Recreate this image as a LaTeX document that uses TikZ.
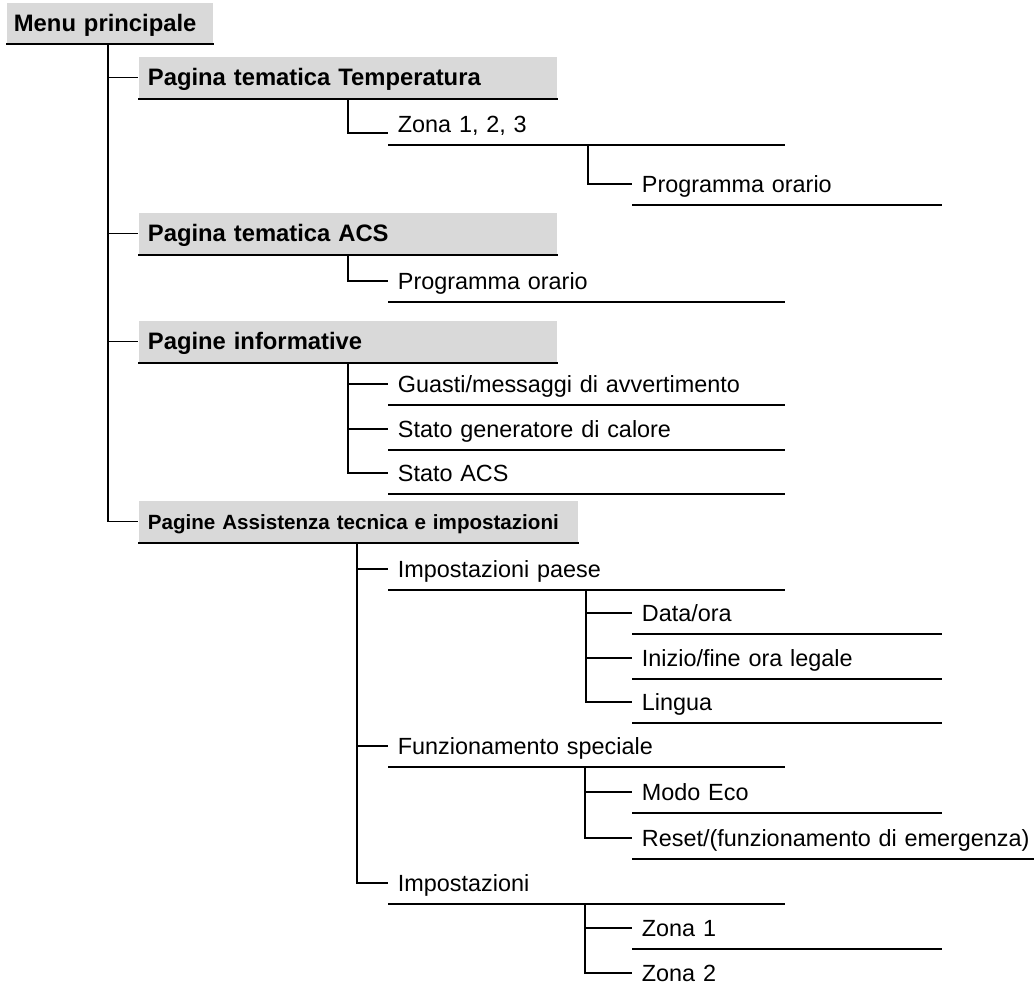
\documentclass[tikz,border=0pt]{standalone}
\usepackage{fontspec}
\setmainfont{Liberation Sans}
\definecolor{boxgray}{HTML}{D9D9D9}

\begin{document}
\begin{tikzpicture}[x=1pt, y=-1pt, line width=1.8pt,
    every node/.style={font=\fontsize{23.4}{28}\selectfont, inner ysep=0pt, text height=19pt, text depth=3pt},
    pagebox/.style={anchor=west, fill=boxgray, inner xsep=9pt, minimum height=41pt, text width=400pt, align=left, font=\fontsize{23.8}{28}\selectfont\bfseries},
    entry/.style={anchor=west, inner xsep=9pt, minimum height=40pt, text width=#1, align=left}]

    \useasboundingbox (0,0) rectangle (1035,988);

    % Menu principale
    \node[pagebox, text width=192pt, inner xsep=7pt, minimum height=40pt] (menu) at (6,23) {Menu principale};
    \draw (menu.south west) -- (menu.south east);
    \coordinate (trunk) at (108,43);

    % Pagina tematica Temperatura
    \node[pagebox] (temp) at (138,77.5) {Pagina tematica Temperatura};
    \draw (temp.south west) -- (temp.south east);
    \draw (trunk) |- (temp.west);
    \coordinate (tempfork) at (348,98);

    % Zona 1, 2, 3
    \node[entry=377pt] (zona) at (388,124) {Zona 1, 2, 3};
    \draw (zona.south west) -- (zona.south east);
    \draw (tempfork) |- ([yshift=-9pt]zona.west);
    \coordinate (zonafork) at (588,144);

    % Programma orario (zone)
    \node[entry=290pt] (zonaprog) at (632,184) {Programma orario};
    \draw (zonaprog.south west) -- (zonaprog.south east);
    \draw (zonafork) |- (zonaprog.west);

    % Pagina tematica ACS
    \node[pagebox] (acs) at (138,233.5) {Pagina tematica ACS};
    \draw (acs.south west) -- (acs.south east);
    \draw (trunk) |- (acs.west);
    \coordinate (acsfork) at (348,254);

    % Programma orario (ACS)
    \node[entry=377pt] (acsprog) at (388,281) {Programma orario};
    \draw (acsprog.south west) -- (acsprog.south east);
    \draw (acsfork) |- (acsprog.west);

    % Pagine informative
    \node[pagebox] (info) at (138,341.5) {Pagine informative};
    \draw (info.south west) -- (info.south east);
    \draw (trunk) |- (info.west);
    \coordinate (infofork) at (348,362);

    \node[entry=377pt] (guasti) at (388,384) {Guasti/messaggi di avvertimento};
    \draw (guasti.south west) -- (guasti.south east);
    \draw (infofork) |- (guasti.west);

    \node[entry=377pt] (statogen) at (388,429) {Stato generatore di calore};
    \draw (statogen.south west) -- (statogen.south east);
    \draw (infofork) |- (statogen.west);

    \node[entry=377pt] (statoacs) at (388,473) {Stato ACS};
    \draw (statoacs.south west) -- (statoacs.south east);
    \draw (infofork) |- (statoacs.west);

    % Pagine Assistenza tecnica e impostazioni
    \node[pagebox, text width=421pt, font=\fontsize{20.6}{24}\selectfont\bfseries] (assist) at (138,521.5) {Pagine Assistenza tecnica e impostazioni};
    \draw (assist.south west) -- (assist.south east);
    \draw (trunk) |- (assist.west);
    \coordinate (assistfork) at (357,542);

    % Impostazioni paese
    \node[entry=377pt] (paese) at (388,569) {Impostazioni paese};
    \draw (paese.south west) -- (paese.south east);
    \draw (assistfork) |- (paese.west);
    \coordinate (paesefork) at (586,589);

    \node[entry=290pt] (dataora) at (632,613) {Data/ora};
    \draw (dataora.south west) -- (dataora.south east);
    \draw (paesefork) |- (dataora.west);

    \node[entry=290pt] (legale) at (632,658) {Inizio/fine ora legale};
    \draw (legale.south west) -- (legale.south east);
    \draw (paesefork) |- (legale.west);

    \node[entry=290pt] (lingua) at (632,702) {Lingua};
    \draw (lingua.south west) -- (lingua.south east);
    \draw (paesefork) |- (lingua.west);

    % Funzionamento speciale
    \node[entry=377pt] (speciale) at (388,746) {Funzionamento speciale};
    \draw (speciale.south west) -- (speciale.south east);
    \draw (assistfork) |- (speciale.west);
    \coordinate (specialefork) at (585,766);

    \node[entry=290pt] (eco) at (632,792) {Modo Eco};
    \draw (eco.south west) -- (eco.south east);
    \draw (specialefork) |- (eco.west);

    \node[entry=382pt] (reset) at (632,838) {\mbox{Reset/(funzionamento di emergenza)}};
    \draw (reset.south west) -- (reset.south east);
    \draw (specialefork) |- (reset.west);

    % Impostazioni
    \node[entry=377pt] (impost) at (388,883) {Impostazioni};
    \draw (impost.south west) -- (impost.south east);
    \draw (assistfork) |- (impost.west);
    \coordinate (impostfork) at (585,903);

    \node[entry=290pt] (zona1) at (632,928) {Zona 1};
    \draw (zona1.south west) -- (zona1.south east);
    \draw (impostfork) |- (zona1.west);

    \node[entry=290pt] (zona2) at (632,973) {Zona 2};
    \draw (impostfork) |- (zona2.west);

\end{tikzpicture}
\end{document}
